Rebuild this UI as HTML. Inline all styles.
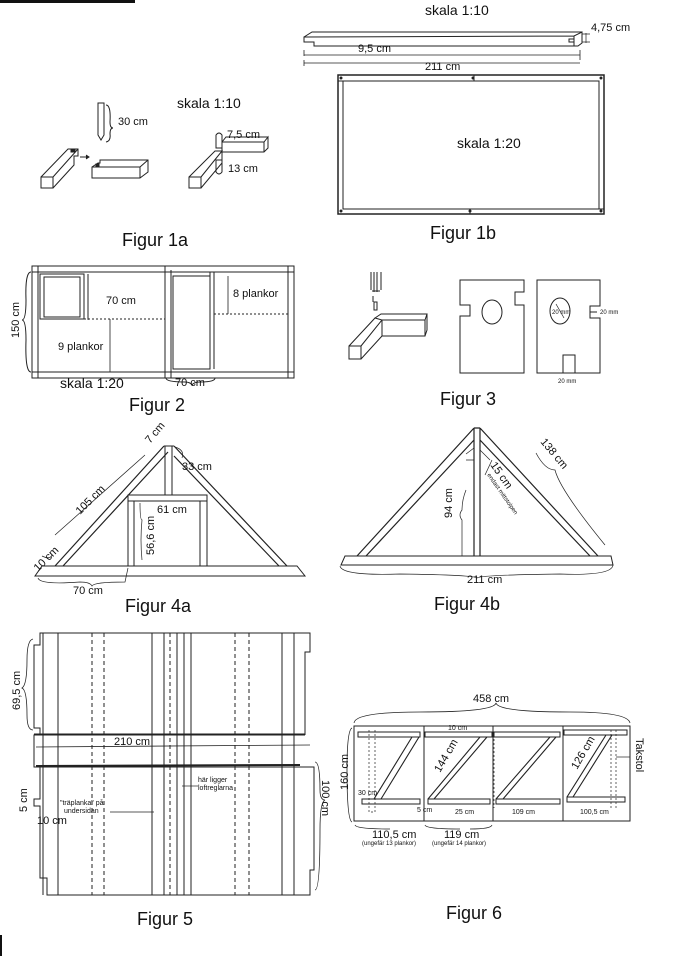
<!DOCTYPE html>
<html><head><meta charset="utf-8"><style>
html,body{margin:0;padding:0;background:#fff;}
svg{display:block;}
text{font-family:"Liberation Sans",sans-serif;fill:#111;}
</style></head><body>
<svg width="700" height="956" viewBox="0 0 700 956" xmlns="http://www.w3.org/2000/svg">
<g stroke="#222" fill="none" stroke-width="1">
<rect x="0" y="0" width="135" height="3" fill="#111" stroke="none"/>
<rect x="0" y="935" width="2" height="21" fill="#111" stroke="none"/>

<!-- Figur 1a -->
<path d="M41,177 L53,177 L53,188 L41,188 Z M41,177 L68,149 L78,149 L78,156 L74,156 L74,165 L53,188 M53,177 L78,149" />
<rect x="71" y="150" width="4" height="2" fill="#222"/>
<path d="M92,173 L92,167 L98,163 L100,163 L100,160 L148,160 L148,172 L140,178 L92,178 Z M92,167 L140,167 L148,160 M140,167 L140,178" />
<rect x="96" y="164" width="3" height="2" fill="#222"/>
<path d="M80,157 L88,157" /><path d="M86,155 L89,157 L86,159" fill="#222"/>
<path d="M98,103 L104,103 L104,135 L101,140 L98,135 Z" />
<path d="M106,105 Q111,105 110,122 Q110,128 113,128 Q110,128 110,134 Q111,141 106,142" />
<text x="118" y="125" font-size="11" stroke="none">30 cm</text>
<text x="177" y="108" font-size="14" stroke="none">skala 1:10</text>
<path d="M189,177 L201,177 L201,188 L189,188 Z M189,177 L215,151 L222,151 L201,177 M201,188 L222,163 L222,151" />
<path d="M222,142 L264,142 L268,137 L268,148 L264,152 L222,152 Z M264,142 L264,152 M222,142 L226,137 L268,137" />
<path d="M216,135 Q219,131 222,135 L222,148 L216,148 Z" />
<path d="M216,160 L222,160 L222,172 Q219,176 216,172 Z" />
<text x="227" y="138" font-size="11" stroke="none">7,5 cm</text>
<text x="228" y="172" font-size="11" stroke="none">13 cm</text>
<text x="122" y="246" font-size="18" stroke="none">Figur 1a</text>

<!-- Figur 1b -->
<text x="425" y="15" font-size="14" stroke="none">skala 1:10</text>
<path d="M304,37 L574,36 L582,32 L582,43 L578,46 L314,46 L314,42 L304,42 Z M304,37 L312,32 L582,32 M574,36 L574,46" />
<rect x="569" y="39" width="5" height="3"/>
<path d="M582,34 L590,34 M582,42 L590,42 M586,33 L586,43" stroke-width=".7"/>
<text x="591" y="31" font-size="11" stroke="none">4,75 cm</text>
<path d="M304,50 L304,56 M304,55 L580,55 M580,50 L580,60 M304,63 L580,63 M304,60 L304,66" stroke-width=".8"/>
<text x="358" y="52" font-size="11" stroke="none">9,5 cm</text>
<text x="425" y="70" font-size="11" stroke="none">211 cm</text>
<rect x="338" y="75" width="266" height="139" stroke-width="1.5"/>
<rect x="343" y="81" width="256" height="128"/>
<path d="M338,81 L599,81 M343,209 L604,209 M474,75 L474,81 M470,209 L470,214" />
<circle cx="341" cy="78" r="1" fill="#222"/><circle cx="601" cy="78" r="1" fill="#222"/><circle cx="473" cy="78" r="1" fill="#222"/>
<circle cx="341" cy="211" r="1" fill="#222"/><circle cx="601" cy="211" r="1" fill="#222"/><circle cx="470" cy="211" r="1" fill="#222"/>
<text x="457" y="148" font-size="14" stroke="none">skala 1:20</text>
<text x="430" y="239" font-size="18" stroke="none">Figur 1b</text>

<!-- Figur 2 -->
<rect x="32" y="266" width="262" height="112"/>
<path d="M32,272 L294,272 M32,372 L294,372 M38,266 L38,378 M288,266 L288,378 M165,266 L165,378 M171,270 L171,378" />
<rect x="40" y="274" width="44" height="45"/><rect x="44" y="277" width="36" height="40"/>
<path d="M84,274 L84,319 M88,274 L88,319" />
<rect x="173" y="276" width="37" height="93"/>
<path d="M210,272 L210,369 M214,272 L214,369" />
<path d="M84,319 L165,319 M214,314 L288,314" stroke-dasharray="2,2"/>
<path d="M110,319 L110,372 M228,276 L228,314 M88,276 L88,320" stroke-width=".8"/>
<path d="M31,272 Q25,272 26,300 Q26,320 22,320 Q26,320 26,340 Q25,372 31,372" />
<text x="19" y="338" font-size="11" stroke="none" transform="rotate(-90 19 338)">150 cm</text>
<text x="106" y="304" font-size="11" stroke="none">70 cm</text>
<text x="233" y="297" font-size="11" stroke="none">8 plankor</text>
<text x="58" y="380" font-size="11" stroke="none" dy="-30">9 plankor</text>
<text x="60" y="388" font-size="14" stroke="none">skala 1:20</text>
<path d="M166,378 Q166,382 185,382 Q190,382 192,385 Q194,382 200,382 Q215,382 215,378"/>
<text x="175" y="386" font-size="11" stroke="none">70 cm</text>
<text x="129" y="411" font-size="18" stroke="none">Figur 2</text>

<!-- Figur 3 -->
<path d="M371,272 L371,290 M374,272 L374,292 M377,272 L377,292 M381,272 L381,290 M372,291 L380,291" />
<path d="M373,296 L373,302" />
<rect x="374" y="302" width="3" height="8"/>
<path d="M349,346 L361,346 L361,359 L349,359 Z M349,346 L375,318 L382,320 L361,346 M361,359 L382,336" />
<path d="M382,320 L425,320 L425,336 L382,336 Z M375,318 L381,314 L427,314 L425,320 M427,314 L427,330 L425,336" />
<path d="M460,292 L460,280 L524,280 L524,292 L515,292 L515,305 L524,305 L524,373 L460,373 L460,316 L470,316 L470,305 L460,305 Z" />
<ellipse cx="492" cy="312" rx="10" ry="12"/>
<path d="M537,280 L600,280 L600,306 L590,306 L590,318 L600,318 L600,373 L537,373 Z" />
<rect x="563" y="355" width="12" height="18" fill="#fff"/>
<ellipse cx="560" cy="311" rx="10" ry="13"/>
<path d="M590,312 L597,312" /><path d="M556,304 L564,318" stroke-width=".7"/>
<text x="552" y="314" font-size="6" stroke="none">20 mm</text>
<text x="600" y="314" font-size="6" stroke="none">20 mm</text>
<text x="558" y="383" font-size="6" stroke="none">20 mm</text>
<text x="440" y="405" font-size="18" stroke="none">Figur 3</text>

<!-- Figur 4a -->
<path d="M35,576 L305,576 L297,566 L42,566 Z" />
<path d="M55,566 L164,446 M63,566 L168,452 M287,566 L174,446 M279,566 L174,456" stroke-width="1.2"/>
<path d="M164,446 L174,446 M165,446 L165,495 M172,446 L172,495" />
<rect x="128" y="495" width="79" height="6"/>
<path d="M128,501 L128,566 M134,501 L134,566 M200,501 L200,566 M207,501 L207,566" />
<path d="M140,503 Q140,520 142,520 Q140,540 142,560" stroke-width=".7"/>
<path d="M42,556 Q50,560 52,555 M55,535 L145,455" stroke-width=".7"/>
<path d="M175,447 Q185,450 182,458" stroke-width=".7"/>
<path d="M38,578 Q40,585 80,582 Q90,582 92,586 Q94,582 125,582 L128,568" stroke-width=".7"/>
<text x="150" y="444" font-size="11" stroke="none" transform="rotate(-50 150 444)">7 cm</text>
<text x="182" y="470" font-size="11" stroke="none">33 cm</text>
<text x="80" y="515" font-size="11" stroke="none" transform="rotate(-45 80 515)">105 cm</text>
<text x="157" y="513" font-size="11" stroke="none">61 cm</text>
<text x="154" y="555" font-size="11" stroke="none" transform="rotate(-90 154 555)">56,6 cm</text>
<text x="38" y="572" font-size="11" stroke="none" transform="rotate(-45 38 572)">10 cm</text>
<text x="73" y="594" font-size="11" stroke="none">70 cm</text>
<text x="125" y="612" font-size="18" stroke="none">Figur 4a</text>

<!-- Figur 4b -->
<path d="M341,565 L613,565 L611,556 L345,556 Z" />
<path d="M357,556 L474,428 M366,556 L474,440 M598,556 L480,428 M590,556 L480,440 M474,428 L480,428 M474,428 L474,556 M480,428 L480,556" stroke-width="1.2"/>
<path d="M466,454 L474,448 M466,460 L474,460 M480,450 L490,460 M485,475 L492,460" stroke-width=".7"/>
<path d="M466,490 Q462,500 462,510 Q458,515 462,520 L462,556 M536,453 Q545,470 555,470 Q560,490 605,545" stroke-width=".7"/>
<path d="M340,566 Q342,576 400,574 Q475,575 477,578 Q480,575 560,574 Q612,576 613,565" stroke-width=".7"/>
<text x="452" y="518" font-size="11" stroke="none" transform="rotate(-90 452 518)">94 cm</text>
<text x="490" y="465" font-size="11" stroke="none" transform="rotate(55 490 465)">15 cm</text>
<text x="487" y="475" font-size="6" stroke="none" transform="rotate(55 487 475)">endast mittstolpen</text>
<text x="540" y="442" font-size="11" stroke="none" transform="rotate(50 540 442)">138 cm</text>
<text x="467" y="583" font-size="11" stroke="none">211 cm</text>
<text x="434" y="610" font-size="18" stroke="none">Figur 4b</text>

<!-- Figur 5 -->
<path d="M47,633 L310,633 L310,652 L305,652 L305,735 M305,767 L314,767 L314,870 L310,870 L310,895 L47,895 L47,878 L40,878 L40,806 L34,806 L34,799 L40,799 L40,767 L34,767 L34,735 L40,735 L40,728 L34,728 L34,645 L40,645 L40,633 L47,633" />
<path d="M34,735 L305,735 M34,767 L310,767 M34,734 L305,734" />
<path d="M36,766 L300,765" stroke-width="2"/>
<path d="M43,633 L43,895 M58,633 L58,895 M152,633 L152,895 M164,633 L164,895 M177,633 L177,895 M184,633 L184,895 M191,633 L191,895 M282,633 L282,895 M294,633 L294,895" />
<path d="M92,633 L92,895 M104,633 L104,895 M170,633 L170,895 M235,633 L235,895 M249,633 L249,895" stroke-dasharray="4,3"/>
<path d="M36,747 L310,745" stroke-width=".8"/>
<path d="M33,639 Q27,640 27,660 Q27,685 22,688 Q27,690 27,715 Q27,730 33,730" stroke-width=".8"/>
<path d="M315,762 Q320,762 320,790 Q320,800 325,800 Q320,802 320,830 Q320,890 315,890" stroke-width=".8"/>
<text x="114" y="745" font-size="11" stroke="none">210 cm</text>
<text x="20" y="710" font-size="11" stroke="none" transform="rotate(-90 20 710)">69,5 cm</text>
<text x="322" y="780" font-size="11" stroke="none" transform="rotate(90 322 780)">100 cm</text>
<text x="27" y="812" font-size="11" stroke="none" transform="rotate(-90 27 812)">5 cm</text>
<text x="37" y="824" font-size="11" stroke="none">10 cm</text>
<text x="60" y="805" font-size="7" stroke="none">"träplanka" på</text>
<text x="64" y="813" font-size="7" stroke="none">undersidan</text>
<path d="M110,812 L154,812" stroke-width=".7"/>
<text x="198" y="782" font-size="7" stroke="none">här ligger</text>
<text x="198" y="790" font-size="7" stroke="none">loftreglarna</text>
<path d="M182,786 L198,786" stroke-width=".7"/>
<text x="137" y="925" font-size="18" stroke="none">Figur 5</text>

<!-- Figur 6 -->
<rect x="354" y="726" width="276" height="95"/>
<path d="M424,726 L424,821 M493,726 L493,821 M563,726 L563,821" />
<rect x="358" y="732" width="62" height="5"/><rect x="425" y="732" width="67" height="5"/><rect x="494" y="732" width="66" height="5"/><rect x="564" y="730" width="63" height="5"/>
<rect x="362" y="799" width="58" height="5"/><rect x="428" y="799" width="62" height="5"/><rect x="496" y="799" width="64" height="5"/><rect x="567" y="797" width="58" height="5"/>
<path d="M412,737 L374,799 M419,737 L381,799 M480,737 L428,799 M487,737 L434,799 M550,737 L496,799 M556,737 L503,799 M606,735 L567,797 M612,735 L573,797" stroke-width="1.1"/>
<path d="M369,730 L369,812 L375,812 L375,730 M611,730 L611,808 M616,730 L616,808 M494,735 L494,808" stroke-dasharray="2,2" stroke-width=".7"/>
<path d="M354,723 Q355,712 420,712 Q494,712 496,703 Q498,712 570,712 Q628,712 630,723" stroke-width=".8"/>
<path d="M352,728 Q347,730 347,770 Q347,820 352,822" stroke-width=".8"/>
<text x="473" y="702" font-size="11" stroke="none">458 cm</text>
<text x="348" y="790" font-size="11" stroke="none" transform="rotate(-90 348 790)">160 cm</text>
<text x="636" y="738" font-size="11" stroke="none" transform="rotate(90 636 738)">Takstol</text>
<path d="M616,757 L630,757" stroke-width=".7"/>
<text x="448" y="730" font-size="7" stroke="none">10 cm</text>
<text x="440" y="773" font-size="11" stroke="none" transform="rotate(-60 440 773)">144 cm</text>
<text x="577" y="770" font-size="11" stroke="none" transform="rotate(-60 577 770)">126 cm</text>
<text x="358" y="795" font-size="7" stroke="none">30 cm</text>
<text x="417" y="812" font-size="7" stroke="none">5 cm</text>
<text x="455" y="814" font-size="7" stroke="none">25 cm</text>
<text x="512" y="814" font-size="7" stroke="none">109 cm</text>
<text x="580" y="814" font-size="7" stroke="none">100,5 cm</text>
<path d="M355,825 Q356,829 390,829 M425,825 Q426,829 460,829 M492,825 Q491,829 470,829" stroke-width=".7"/>
<text x="372" y="838" font-size="11" stroke="none">110,5 cm</text>
<text x="444" y="838" font-size="11" stroke="none">119 cm</text>
<text x="362" y="845" font-size="6" stroke="none">(ungefär 13 plankor)</text>
<text x="432" y="845" font-size="6" stroke="none">(ungefär 14 plankor)</text>
<text x="446" y="919" font-size="18" stroke="none">Figur 6</text>
</g>
</svg>
</body></html>
